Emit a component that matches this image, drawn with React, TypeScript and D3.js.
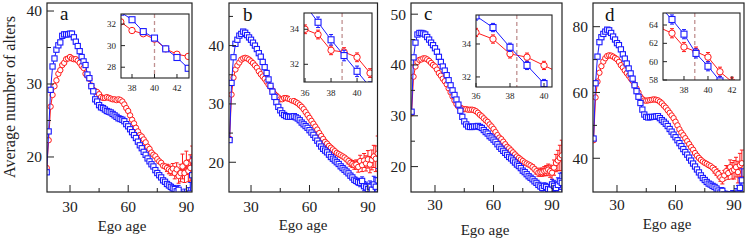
import React, { useEffect, useRef } from "react";
import * as d3 from "d3";

const FONT = "\"Liberation Serif\", \"DejaVu Serif\", serif";
const RED = "#ff1a1a";
const BLUE = "#1a1aff";

// ---- panel a ----
const agesA = d3.range(18, 94);
const aBlue = [17.9, 23.5, 29.2, 32.4, 33.5, 34.7, 35.3, 35.7, 36.6, 36.8,
  36.8, 36.8, 36.9, 36.9, 36.4, 35.8, 35.2, 34.5, 33.7, 33.1,
  32.6, 31.3, 30.8, 29.7, 29.0, 27.9, 27.6, 27.1, 26.8, 26.7,
  26.5, 26.3, 26.2, 26.1, 25.9, 25.7, 25.5, 25.3, 25.2, 25.1,
  24.9, 24.5, 24.2, 23.8, 23.4, 23.0, 22.6, 22.1, 21.6, 21.2,
  20.7, 20.3, 19.8, 19.4, 19.0, 18.7, 18.2, 17.8, 17.5, 17.2,
  16.8, 16.6, 16.3, 16.1, 15.9, 15.7, 15.6, 15.3, 15.5, 14.8,
  14.5, 14.7, 14.3, 14.6, 15.0, 17.5];
const aRed = [18.5, 22.3, 26.9, 28.5, 29.7, 30.5, 31.4, 31.9, 32.6, 32.9,
  33.4, 33.5, 33.7, 33.5, 33.4, 33.4, 33.2, 32.9, 32.5, 32.2,
  31.4, 31.1, 30.7, 29.8, 29.2, 29.0, 28.9, 28.6, 28.2, 28.1,
  28.1, 28.2, 28.1, 28.0, 27.9, 27.9, 27.8, 27.9, 27.8, 27.6,
  27.2, 26.7, 26.3, 25.7, 25.1, 24.6, 24.0, 23.5, 23.0, 22.8,
  22.4, 22.0, 21.4, 21.1, 20.6, 20.3, 20.1, 19.7, 19.4, 19.2,
  18.8, 18.7, 18.5, 18.3, 18.1, 18.4, 17.8, 18.3, 17.4, 17.8,
  18.7, 17.8, 19.2, 18.1, 18.5, 19.5];
// error bars from age 80 on
const aBlueErr = [0.3, 0.3, 0.4, 0.4, 0.5, 0.5, 0.6, 0.7, 0.8, 0.9, 1.0, 1.2, 1.5, 2.5];
const aRedErr = [0.5, 0.6, 0.6, 0.7, 0.8, 0.9, 1.0, 1.2, 1.7, 1.3, 1.6, 1.5, 1.8, 2.0];

// ---- panel b ----
const agesB = d3.range(19, 96);
const bBlue = [23.8, 33.6, 38.0, 40.3, 41.0, 41.7, 42.0, 42.4, 42.2, 41.8,
  41.4, 41.0, 40.5, 40.0, 39.4, 38.7, 38.1, 37.2, 36.3, 35.3,
  34.2, 33.1, 32.1, 31.2, 30.3, 29.5, 28.9, 28.4, 28.1, 27.9,
  27.8, 27.8, 27.8, 27.9, 27.7, 27.5, 27.2, 26.8, 26.5, 26.2,
  25.9, 25.5, 25.1, 24.7, 24.2, 23.7, 23.2, 22.7, 22.3, 22.0,
  21.7, 21.3, 20.9, 20.6, 20.3, 20.0, 19.7, 19.3, 19.0, 18.7,
  18.4, 18.1, 17.7, 17.4, 17.0, 16.8, 16.6, 16.5, 16.8, 15.9,
  15.7, 15.4, 15.8, 15.3, 16.2, 15.8, 16.9];
const bRed = [24.0, 31.6, 34.5, 35.9, 36.6, 37.1, 37.6, 37.8, 37.9, 37.8,
  37.6, 37.3, 37.0, 36.6, 36.2, 35.6, 35.1, 34.7, 34.3, 33.8,
  33.3, 32.9, 32.3, 31.7, 31.4, 31.1, 30.8, 30.8, 31.0, 31.0,
  30.9, 30.8, 30.6, 30.5, 30.3, 30.1, 29.8, 29.5, 29.1, 28.6,
  28.1, 27.6, 27.1, 26.6, 26.1, 25.6, 25.0, 24.5, 24.0, 23.5,
  23.2, 22.8, 22.5, 22.2, 21.9, 21.6, 21.4, 21.2, 21.0, 20.8,
  20.5, 20.2, 19.9, 19.7, 19.5, 19.6, 19.2, 20.2, 19.5, 20.3,
  19.8, 20.5, 19.6, 20.4, 21.0, 20.6, 21.5];
const bBlueErr = [0.3, 0.4, 0.4, 0.5, 0.5, 0.6, 0.7, 0.7, 0.8, 0.9, 1.0, 1.0, 1.2, 1.4, 1.6, 2.0];
const bRedErr = [0.5, 0.6, 0.6, 0.7, 0.8, 0.9, 1.0, 1.1, 1.2, 1.3, 1.5, 1.4, 1.7, 1.9, 2.2, 3.0];

// ---- panel c ----
const agesC = d3.range(18, 96);
const cBlue = [30.8, 41.5, 44.4, 46.0, 46.3, 46.3, 46.2, 46.0, 45.5, 45.0,
  44.4, 43.9, 43.3, 42.6, 41.6, 40.6, 39.7, 38.9, 38.0, 37.0,
  36.0, 35.0, 34.1, 33.2, 32.2, 31.0, 29.8, 28.9, 28.3, 27.9,
  27.8, 27.8, 27.9, 27.9, 28.0, 27.8, 27.6, 27.2, 26.8, 26.5,
  26.0, 25.7, 25.3, 24.9, 24.4, 23.9, 23.5, 23.1, 22.7, 22.3,
  21.9, 21.6, 21.2, 20.8, 20.4, 20.1, 19.7, 19.2, 18.9, 18.5,
  18.1, 17.8, 17.5, 17.1, 16.8, 16.4, 16.1, 15.8, 16.2, 16.0,
  15.6, 15.5, 16.5, 16.2, 15.8, 16.4, 17.1, 16.8];
const cRed = [30.5, 37.7, 39.7, 40.6, 41.0, 41.1, 41.3, 41.3, 41.1, 40.8,
  40.4, 40.0, 39.7, 39.1, 38.4, 37.9, 37.3, 36.8, 36.2, 35.4,
  34.6, 33.8, 33.0, 32.3, 31.8, 31.6, 31.4, 31.3, 31.3, 31.2,
  31.2, 31.2, 31.1, 30.9, 30.6, 30.2, 29.9, 29.5, 29.1, 28.8,
  28.3, 27.9, 27.4, 26.8, 26.2, 25.7, 25.4, 24.9, 24.4, 23.9,
  23.6, 23.2, 22.8, 22.4, 22.0, 21.7, 21.4, 21.1, 20.8, 20.6,
  20.4, 20.2, 19.9, 19.5, 19.1, 18.8, 18.9, 18.9, 19.1, 19.2,
  19.4, 19.1, 18.8, 19.8, 20.7, 21.2, 21.7, 22.2];
const cBlueErr = [0.3, 0.4, 0.4, 0.5, 0.5, 0.6, 0.6, 0.7, 0.8, 0.9, 1.0, 1.1, 1.2, 1.4, 1.6, 2.0];
const cRedErr = [0.5, 0.5, 0.6, 0.7, 0.8, 0.8, 0.9, 1.0, 1.1, 1.2, 1.3, 1.5, 1.7, 2.0, 2.5, 3.0];

// ---- panel d ----
const agesD = d3.range(18, 95);
const dBlue = [46.0, 62.8, 70.9, 75.3, 76.8, 77.8, 78.5, 79.1, 78.9, 78.1,
  77.0, 76.1, 75.0, 74.4, 73.1, 71.6, 70.3, 68.8, 67.3, 65.8,
  64.2, 62.2, 60.4, 58.7, 56.8, 54.8, 53.3, 52.6, 52.4, 52.5,
  52.6, 52.6, 52.7, 52.8, 52.2, 51.6, 51.1, 50.5, 49.8, 48.9,
  48.1, 47.2, 46.4, 45.5, 44.6, 43.7, 42.8, 41.9, 41.1, 40.2,
  39.3, 38.4, 37.5, 36.6, 35.7, 34.8, 34.0, 33.4, 32.8, 32.3,
  32.0, 31.6, 31.3, 30.8, 30.2, 29.6, 30.1, 29.0, 28.8, 28.5,
  28.2, 28.4, 28.0, 28.6, 29.2, 31.0, 33.3];
const dRed = [45.5, 58.5, 63.3, 66.0, 68.0, 69.4, 70.4, 71.1, 71.3, 71.2,
  70.9, 70.5, 70.1, 69.3, 68.3, 67.6, 66.7, 65.9, 65.1, 64.3,
  63.5, 62.3, 61.2, 60.0, 58.7, 58.0, 57.6, 57.5, 57.6, 57.7,
  57.8, 57.9, 57.8, 57.6, 57.2, 56.7, 56.0, 55.4, 54.6, 53.8,
  53.0, 52.2, 51.1, 50.0, 48.8, 47.8, 47.0, 46.1, 45.2, 44.3,
  43.4, 42.6, 41.6, 40.8, 40.1, 39.5, 39.0, 38.6, 38.3, 37.9,
  37.6, 37.1, 36.5, 35.8, 35.2, 34.2, 33.6, 34.8, 36.1, 35.5,
  37.3, 36.2, 36.5, 37.3, 35.8, 37.9, 38.5];
const dBlueErr = [0.6, 0.7, 0.8, 0.9, 1.0, 1.1, 1.2, 1.4, 1.6, 1.8, 2.0, 2.2, 2.5, 3.0, 3.5];
const dRedErr = [1.0, 1.0, 1.1, 1.2, 1.4, 1.5, 1.7, 1.9, 2.2, 2.5, 2.8, 3.0, 3.3, 3.6, 4.0];

// ---- insets ----
const insetAgesA = [37, 38, 39, 40, 41, 42, 43];
const aInsetBlue = [33.1, 32.4, 31.3, 30.7, 29.7, 28.9, 27.9];
const aInsetRed = [32.2, 31.4, 31.1, 30.6, 29.7, 29.2, 29.0];
const insetAgesB = [36, 37, 38, 39, 40, 41];
const bInsetBlue = [35.4, 34.4, 33.4, 32.5, 31.6, 30.7];
const bInsetRed = [34.0, 33.7, 32.8, 32.7, 32.4, 31.5];
const insetAgesC = [36, 37, 38, 39, 40, 41];
const cInsetBlue = [35.7, 35.0, 33.8, 32.7, 31.6, 30.5];
const cInsetRed = [34.7, 34.3, 33.4, 33.2, 32.7, 32.2];
const insetAgesD = [36, 37, 38, 39, 40, 41, 42];
const dInsetBlue = [66.0, 64.6, 63.0, 60.9, 59.5, 57.9, 56.4];
const dInsetRed = [63.7, 63.1, 61.6, 61.1, 60.5, 58.9, 57.8];

function mk(ages, vals, color, shape, errStart, err) {
  return { ages, vals, color, shape, errStart, err };
}

const panels = [
  {
    letter: "a", box: [47, 192, 3, 192], xDom: [18.14, 92.9], yDom: [15.2, 41.1],
    yMajor: [20, 30, 40], yMinor: [25, 35], lp: [60, 20], xl: [122, 231], tb: 212,
    series: [mk(agesA, aRed, RED, "c", 80, aRedErr), mk(agesA, aBlue, BLUE, "s", 80, aBlueErr)],
    inset: {
      box: [121, 189, 14, 78], xDom: [37.02, 43.07], yDom: [27.0, 32.93],
      xTicks: [38, 40, 42], yTicks: [28, 30, 32], dash: 40, lb: 91,
      series: [mk(insetAgesA, aInsetRed, RED, "c", 0, [0.15]), mk(insetAgesA, aInsetBlue, BLUE, "s", 0, [0.15])],
    },
  },
  {
    letter: "b", box: [229, 377.5, 3, 192], xDom: [18.7, 94.9], yDom: [14.9, 47.3],
    yMajor: [20, 30, 40], yMinor: [25, 35, 45], lp: [243, 21], xl: [303, 230], tb: 212,
    series: [mk(agesB, bRed, RED, "c", 80, bRedErr), mk(agesB, bBlue, BLUE, "s", 80, bBlueErr)],
    inset: {
      box: [304, 372, 13, 82], xDom: [35.92, 41.15], yDom: [30.99, 34.93],
      xTicks: [36, 38, 40], yTicks: [32, 34], dash: 38.85, lb: 96,
      series: [mk(insetAgesB, bInsetRed, RED, "c", 0, [0.25]), mk(insetAgesB, bInsetBlue, BLUE, "s", 0, [0.3])],
    },
  },
  {
    letter: "c", box: [411, 562, 3, 192], xDom: [17.7, 95.1], yDom: [15.0, 52.2],
    yMajor: [20, 30, 40, 50], yMinor: [25, 35, 45], lp: [424, 20], xl: [485, 235], tb: 210,
    series: [mk(agesC, cRed, RED, "c", 80, cRedErr), mk(agesC, cBlue, BLUE, "s", 80, cBlueErr)],
    inset: {
      box: [476, 552, 15, 87], xDom: [36, 40.47], yDom: [31.39, 35.76],
      xTicks: [36, 38, 40], yTicks: [32, 34], dash: 38.4, lb: 99,
      series: [mk(insetAgesC, cInsetRed, RED, "c", 0, [0.25]), mk(insetAgesC, cInsetBlue, BLUE, "s", 0, [0.25])],
    },
  },
  {
    letter: "d", box: [593, 744, 3, 192], xDom: [17.7, 95.1], yDom: [29.75, 87.2],
    yMajor: [40, 60, 80], yMinor: [50, 70], lp: [605, 21], xl: [667, 229], tb: 210,
    series: [mk(agesD, dRed, RED, "c", 80, dRedErr), mk(agesD, dBlue, BLUE, "s", 80, dBlueErr)],
    inset: {
      box: [663, 740, 13, 80], xDom: [36.25, 42.67], yDom: [58, 65.31],
      xTicks: [38, 40, 42], yTicks: [58, 60, 62, 64], dash: 38.9, lb: 93,
      series: [mk(insetAgesD, dInsetRed, RED, "c", 0, [0.5]), mk(insetAgesD, dInsetBlue, BLUE, "s", 0, [0.5])],
    },
  },
];

function errAt(s, a) {
  if (a < s.errStart) return 0;
  const i = a - s.errStart;
  return s.err[Math.min(i, s.err.length - 1)] || 0;
}

function label(g, x, y, txt, size, anchor) {
  return g.append("text").attr("x", x).attr("y", y).attr("text-anchor", anchor)
    .style("font-family", FONT).style("font-size", size + "px").attr("fill", "#222").text(txt);
}

function drawSeries(g, x, y, s, inset) {
  const pts = s.ages.map((a, i) => ({ a, v: s.vals[i], e: errAt(s, a) }));
  const line = d3.line().x((d) => x(d.a)).y((d) => y(d.v));
  g.append("path").datum(pts).attr("d", line)
    .attr("fill", "none").attr("stroke", s.color).attr("stroke-width", 1);

  pts.filter((d) => d.e > 0).forEach((d) => {
    const cx = x(d.a);
    g.append("line").attr("x1", cx).attr("x2", cx).attr("y1", y(d.v - d.e)).attr("y2", y(d.v + d.e))
      .attr("stroke", s.color).attr("stroke-width", 1);
    [d.v - d.e, d.v + d.e].forEach((v) => {
      g.append("line").attr("x1", cx - 2).attr("x2", cx + 2).attr("y1", y(v)).attr("y2", y(v))
        .attr("stroke", s.color).attr("stroke-width", 1);
    });
  });

  if (s.shape === "c") {
    g.selectAll(null).data(pts).join("circle")
      .attr("cx", (d) => x(d.a)).attr("cy", (d) => y(d.v)).attr("r", inset ? 3.2 : 2.7)
      .attr("fill", "white").attr("stroke", s.color).attr("stroke-width", 1);
  } else {
    const sz = inset ? 6 : 5.2;
    g.selectAll(null).data(pts).join("rect")
      .attr("x", (d) => x(d.a) - sz / 2).attr("y", (d) => y(d.v) - sz / 2)
      .attr("width", sz).attr("height", sz)
      .attr("fill", "white").attr("stroke", s.color).attr("stroke-width", 1.1);
  }
}

function drawPanel(svg, p, idx) {
  const [x0, x1, y0, y1] = p.box;
  const x = d3.scaleLinear().domain(p.xDom).range([x0, x1]);
  const y = d3.scaleLinear().domain(p.yDom).range([y1, y0]);
  const defs = svg.append("defs");
  defs.append("clipPath").attr("id", "clipm" + idx).append("rect")
    .attr("x", x0).attr("y", y0).attr("width", x1 - x0).attr("height", y1 - y0);

  const g = svg.append("g");
  const dg = g.append("g").attr("clip-path", `url(#clipm${idx})`);
  p.series.forEach((s) => drawSeries(dg, x, y, s, false));

  g.append("rect").attr("x", x0).attr("y", y0).attr("width", x1 - x0).attr("height", y1 - y0)
    .attr("fill", "none").attr("stroke", "#222").attr("stroke-width", 1.2);

  // ticks, pointing inward
  const inX = (t) => t >= p.xDom[0] && t <= p.xDom[1];
  [30, 60, 90].filter(inX).forEach((t) => {
    g.append("line").attr("x1", x(t)).attr("x2", x(t)).attr("y1", y1).attr("y2", y1 - 7).attr("stroke", "#222");
    label(g, x(t), p.tb, t, 15.5, "middle");
  });
  [45, 75].filter(inX).forEach((t) => {
    g.append("line").attr("x1", x(t)).attr("x2", x(t)).attr("y1", y1).attr("y2", y1 - 4).attr("stroke", "#222");
  });
  p.yMajor.forEach((t) => {
    g.append("line").attr("x1", x0).attr("x2", x0 + 7).attr("y1", y(t)).attr("y2", y(t)).attr("stroke", "#222");
    label(g, x0 - 5, y(t), t, 15.5, "end").attr("dy", "0.35em");
  });
  p.yMinor.forEach((t) => {
    g.append("line").attr("x1", x0).attr("x2", x0 + 4).attr("y1", y(t)).attr("y2", y(t)).attr("stroke", "#222");
  });

  label(g, p.lp[0], p.lp[1], p.letter, 19, "start").attr("fill", "#111");
  label(g, p.xl[0], p.xl[1], "Ego age", 15, "middle");

  // inset
  const ins = p.inset;
  const [ix0, ix1, iy0, iy1] = ins.box;
  const ix = d3.scaleLinear().domain(ins.xDom).range([ix0, ix1]);
  const iy = d3.scaleLinear().domain(ins.yDom).range([iy1, iy0]);
  defs.append("clipPath").attr("id", "clipi" + idx).append("rect")
    .attr("x", ix0).attr("y", iy0).attr("width", ix1 - ix0).attr("height", iy1 - iy0);
  const ig = g.append("g");
  ig.append("rect").attr("x", ix0 - 14).attr("y", iy0).attr("width", ix1 - ix0 + 14).attr("height", iy1 - iy0 + 16)
    .attr("fill", "white");
  const idg = ig.append("g").attr("clip-path", `url(#clipi${idx})`);
  idg.append("line").attr("x1", ix(ins.dash)).attr("x2", ix(ins.dash)).attr("y1", iy0).attr("y2", iy1)
    .attr("stroke", "#c09090").attr("stroke-width", 1.3).attr("stroke-dasharray", "4,3");
  ins.series.forEach((s) => drawSeries(idg, ix, iy, s, true));
  ig.append("rect").attr("x", ix0).attr("y", iy0).attr("width", ix1 - ix0).attr("height", iy1 - iy0)
    .attr("fill", "none").attr("stroke", "#222").attr("stroke-width", 1.1);
  ins.xTicks.forEach((t) => {
    ig.append("line").attr("x1", ix(t)).attr("x2", ix(t)).attr("y1", iy1).attr("y2", iy1 - 4).attr("stroke", "#222");
    label(ig, ix(t), ins.lb, t, 9, "middle");
  });
  ins.yTicks.forEach((t) => {
    ig.append("line").attr("x1", ix0).attr("x2", ix0 + 4).attr("y1", iy(t)).attr("y2", iy(t)).attr("stroke", "#222");
    label(ig, ix0 - 5, iy(t), t, 9, "end").attr("dy", "0.35em");
  });
}

export default function App() {
  const ref = useRef(null);
  useEffect(() => {
    const svg = d3.select(ref.current);
    svg.selectAll("*").remove();
    svg.append("rect").attr("width", 747).attr("height", 242).attr("fill", "white");
    panels.forEach((p, i) => drawPanel(svg, p, i));
    label(svg, 0, 0, "Average number of alters", 16, "middle")
      .attr("transform", "translate(15,97) rotate(-90)");
  }, []);
  return (
    <svg ref={ref} width={747} height={242} style={{ position: "absolute", left: 0, top: 0 }} />
  );
}
